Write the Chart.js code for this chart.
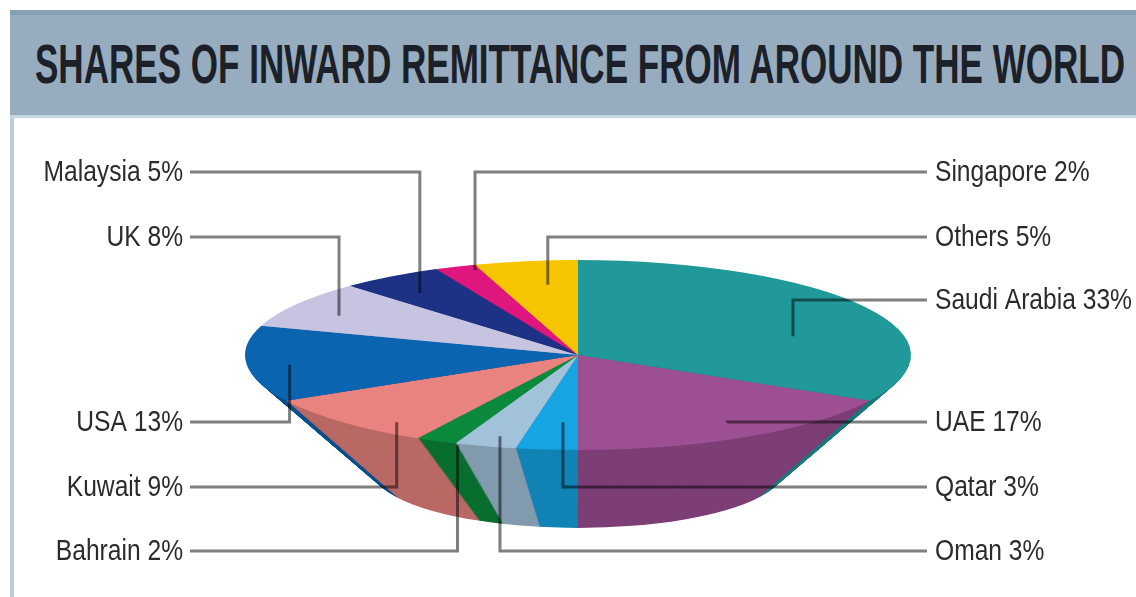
<!DOCTYPE html>
<html>
<head>
<meta charset="utf-8">
<script src="https://cdn.jsdelivr.net/npm/chart.js@4.4.1/dist/chart.umd.min.js"></script>
<style>
    body { margin: 0; background: #ffffff; }
    #contenedor { position: relative; width: 1136px; height: 597px; overflow: hidden; }
    #grafica { position: absolute; left: 0; top: 0; }
    #bordeIzq { position: absolute; left: 10px; top: 10px; width: 4px; height: 587px; background: #b9ccd8; }
    #banda {
        position: absolute; left: 10px; top: 10px; width: 1126px; height: 100px;
        background: #97adbf; border-top: 5px solid #87a0b3; border-bottom: 3px solid #c6d6e0;
    }
    #titulo {
        position: absolute; left: 35px; top: 36px; margin: 0;
        font-family: "Liberation Sans", Arial, sans-serif;
        font-weight: bold; font-size: 56px; line-height: 1; color: #1b2029;
        white-space: nowrap; transform-origin: 0 0;
    }
</style>
</head>
<body>
<div id="contenedor">
    <canvas id="grafica" width="1136" height="597"></canvas>
    <div id="bordeIzq"></div>
    <div id="banda"></div>
    <div id="titulo">SHARES OF INWARD REMITTANCE FROM AROUND THE WORLD</div>
</div>
<script>
// datos: porcentaje de remesas por pais, en sentido horario desde arriba
const paises = ['Saudi Arabia', 'UAE', 'Qatar', 'Oman', 'Bahrain', 'Kuwait', 'USA', 'UK', 'Malaysia', 'Singapore', 'Others'];
const porcentajes = [33, 17, 3, 3, 2, 9, 13, 8, 5, 2, 5];
const colores = ['#21999a', '#9c4f93', '#17a4e2', '#a2c2da', '#0b8a3c', '#e8837f', '#0b64b0', '#c6c4e0', '#1d3285', '#e0167f', '#f7c500'];

// posicion de cada etiqueta: lado, fila y donde cae la linea dentro de la porcion
const ladoEtiqueta = ['der', 'der', 'der', 'der', 'izq', 'izq', 'izq', 'izq', 'izq', 'der', 'der'];
const filaEtiqueta = [300, 422, 487, 551, 551, 487, 422, 237, 172, 172, 237];
const fraccionAncla = [[0.75, 0.39], [0.88, 0.82], [0.48, 0.71], [0.84, 0.89], [0.85, 1.05], [0.77, 1.0],
                       [0.87, 1.1], [0.85, 0.77], [0.845, 0.79], [0.84, 0.96], [0.58, 0.75]];

(() => {

    const PROFUNDIDAD = 114;     // alto de la pared del pastel
    const ESCALA_BASE = 0.62;    // la base es mas chica que la tapa
    const X_TEXTO_IZQ = 183;
    const X_TEXTO_DER = 935;
    const ANGOSTO = 0.82;        // letra condensada

    function oscurecer(hex, f) {
        const n = parseInt(hex.slice(1), 16);
        const r = Math.round(((n >> 16) & 255) * f);
        const g = Math.round(((n >> 8) & 255) * f);
        const b = Math.round((n & 255) * f);
        return `rgb(${r},${g},${b})`;
    }

    // ajustar el titulo al ancho de la banda
    const titulo = document.getElementById('titulo');
    const ancho = titulo.getBoundingClientRect().width;
    titulo.style.transform = `scaleX(${1090 / ancho})`;

    const pastel3D = {
        id: 'pastel3D',
        beforeDatasetsDraw(chart) {
            const ctx = chart.ctx;
            const arcos = chart.getDatasetMeta(0).data;
            const area = chart.chartArea;
            const cx = (area.left + area.right) / 2;
            const cy = (area.top + area.bottom) / 2;
            const rx = (area.right - area.left) / 2;
            const ry = (area.bottom - area.top) / 2;

            // pared: capas de abajo hacia arriba, cada una un poco mas grande
            for (let i = PROFUNDIDAD; i >= 1; i--) {
                const t = i / PROFUNDIDAD;
                const s = 1 - (1 - ESCALA_BASE) * t;
                const y = cy + PROFUNDIDAD * t;
                arcos.forEach((arco, k) => {
                    ctx.save();
                    ctx.translate(cx, y);
                    ctx.scale(rx * s, ry * s);
                    ctx.beginPath();
                    ctx.moveTo(0, 0);
                    ctx.arc(0, 0, 1, arco.startAngle, arco.endAngle);
                    ctx.closePath();
                    ctx.restore();
                    ctx.fillStyle = oscurecer(colores[k], 0.8);
                    ctx.fill();
                });
            }

            // tapa: el pastel normal estirado a lo ancho
            const a = arcos[0];
            ctx.save();
            ctx.translate(a.x, a.y);
            ctx.scale(rx / a.outerRadius, ry / a.outerRadius);
            ctx.translate(-a.x, -a.y);
        },
        afterDatasetsDraw(chart) {
            const ctx = chart.ctx;
            ctx.restore();

            const arcos = chart.getDatasetMeta(0).data;
            const area = chart.chartArea;
            const cx = (area.left + area.right) / 2;
            const cy = (area.top + area.bottom) / 2;
            const rx = (area.right - area.left) / 2;
            const ry = (area.bottom - area.top) / 2;

            arcos.forEach((arco, k) => {
                const medio = (arco.startAngle + arco.endAngle) / 2;
                const ax = cx + rx * fraccionAncla[k][0] * Math.cos(medio);
                const ay = cy + ry * fraccionAncla[k][1] * Math.sin(medio);
                const fila = filaEtiqueta[k];
                const izq = ladoEtiqueta[k] === 'izq';
                const xInicio = izq ? X_TEXTO_IZQ + 7 : X_TEXTO_DER - 8;

                ctx.save();
                ctx.strokeStyle = 'rgba(0,0,0,0.5)';
                ctx.lineWidth = 3;
                ctx.beginPath();
                ctx.moveTo(xInicio, fila);
                ctx.lineTo(ax, fila);
                ctx.lineTo(ax, ay);
                ctx.stroke();

                // texto angosto: se escala solo en x
                const xTexto = izq ? X_TEXTO_IZQ : X_TEXTO_DER;
                ctx.translate(xTexto, fila + 1);
                ctx.scale(ANGOSTO, 1);
                ctx.font = '30px "Liberation Sans", Arial, sans-serif';
                ctx.textBaseline = 'middle';
                ctx.textAlign = izq ? 'right' : 'left';
                ctx.fillStyle = '#2b2b2b';
                ctx.fillText(`${paises[k]} ${porcentajes[k]}%`, 0, 0);
                ctx.restore();
            });
        }
    };

    new Chart(document.getElementById('grafica'), {
        type: 'pie',
        data: {
            labels: paises,
            datasets: [{
                data: porcentajes,
                backgroundColor: colores,
                borderWidth: 0
            }]
        },
        options: {
            responsive: false,
            animation: false,
            events: [],
            layout: { padding: { left: 245, right: 225, top: 260, bottom: 147 } },
            plugins: {
                legend: { display: false },
                tooltip: { enabled: false }
            }
        },
        plugins: [pastel3D]
    });

})();
</script>
</body>
</html>
